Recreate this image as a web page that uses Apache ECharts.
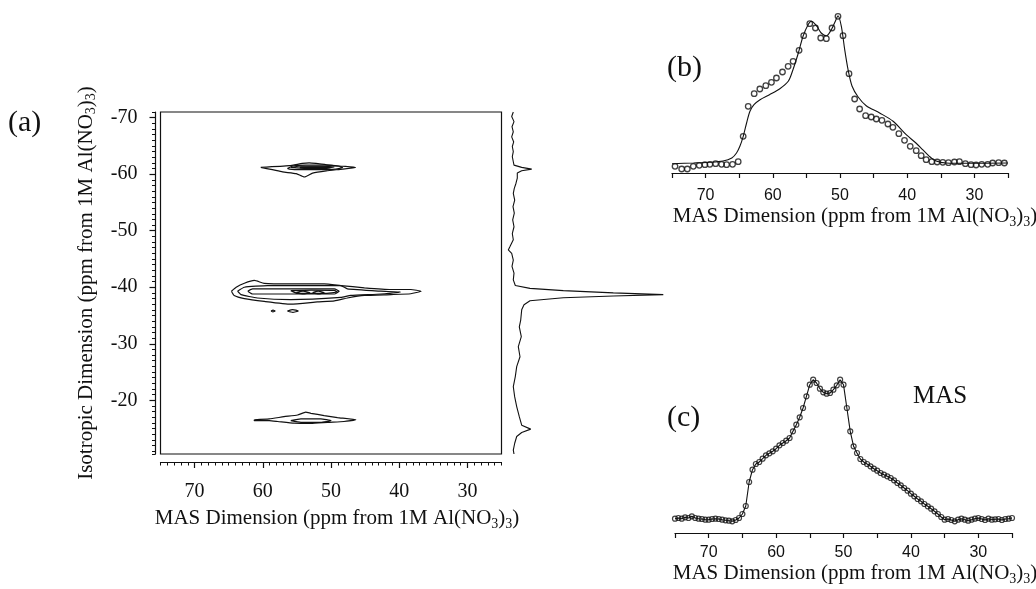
<!DOCTYPE html>
<html>
<head>
<meta charset="utf-8">
<script src="https://cdn.jsdelivr.net/npm/echarts@6/dist/echarts.min.js"></script>
<style>
html, body { margin: 0; padding: 0; background: #fff; }
#chart { width: 1036px; height: 589px; }
</style>
</head>
<body>
<div id="chart"></div>
<script>
// tick labels
const masLabels = [70, 60, 50, 40, 30]
const isoLabels = [-70, -60, -50, -40, -30, -20]

// (b) slice through the -38.5 ppm site: points + fit
const bPpm = [74.55, 73.56, 72.72, 71.83, 70.94, 70.1, 69.36, 68.51, 67.62, 66.88,
  65.99, 65.15, 64.41, 63.66, 62.77, 61.93, 61.04, 60.2, 59.46, 58.56,
  57.72, 56.98, 56.09, 55.4, 54.5, 53.66, 52.87, 52.03, 51.19, 50.3,
  49.55, 48.66, 47.82, 47.08, 46.19, 45.35, 44.6, 43.76, 42.87, 42.13,
  41.24, 40.4, 39.55, 38.66, 37.92, 37.18, 36.34, 35.54, 34.7, 33.86,
  32.97, 32.23, 31.34, 30.5, 29.75, 28.91, 28.02, 27.28, 26.39, 25.54]
const bInt = [6.7, 4, 4, 6.7, 7.7, 8.3, 8.7, 9.3, 8.7, 8.3,
  8.7, 11.3, 36.7, 66.7, 79.3, 84, 87.3, 90.7, 95, 101,
  106.7, 111.7, 122.7, 137.3, 149.3, 145, 135, 134.3, 145, 156.7,
  137.3, 99.3, 74, 64, 57.3, 56, 54, 52.7, 49, 45.7,
  39.3, 32.7, 26.7, 22.3, 17.3, 13.3, 11.3, 11, 10.7, 10.3,
  11, 11.3, 9.3, 8.3, 8, 8.7, 8.7, 10, 10.3, 10]
const bFitPpm = [75, 71.8, 69.4, 67.4, 66.1, 65.4, 64.9, 64.4, 63.9, 63.4,
  62.8, 61.9, 60.5, 59, 57.7, 57, 56.2, 55.5, 54.75, 54.25,
  53.5, 52.8, 52, 51.3, 50.6, 50.3, 49.8, 49.3, 48.8, 48.2,
  47.3, 46.1, 44.1, 42.1, 40.15, 38.7, 37.7, 36.7, 35.7, 34.2, 31.2, 25]
const bFitInt = [9.3, 10, 10.7, 12, 15, 20, 26.7, 36.7, 50, 61.7,
  68.3, 73.3, 78.3, 84, 91.7, 103.3, 120, 136.7, 148.3, 151.7,
  147.3, 140, 137.3, 143.3, 153.3, 157.3, 146.7, 123.3, 103.3, 86.7,
  76, 67.3, 60, 51.7, 38.3, 30, 23.3, 16.7, 12, 10, 9.7, 10]

// (c) MAS spectrum
const cPpm = [75, 74.5, 74, 73.5, 73, 72.5, 72, 71.5, 71, 70.5,
  70, 69.5, 69, 68.5, 68, 67.5, 67, 66.5, 66, 65.5,
  65, 64.5, 64, 63.5, 63, 62.5, 62, 61.5, 61, 60.5,
  60, 59.5, 59, 58.5, 58, 57.5, 57, 56.5, 56, 55.5,
  55, 54.5, 54, 53.5, 53, 52.5, 52, 51.5, 51, 50.5,
  50, 49.5, 49, 48.5, 48, 47.5, 47, 46.5, 46, 45.5,
  45, 44.5, 44, 43.5, 43, 42.5, 42, 41.5, 41, 40.5,
  40, 39.5, 39, 38.5, 38, 37.5, 37, 36.5, 36, 35.5,
  35, 34.5, 34, 33.5, 33, 32.5, 32, 31.5, 31, 30.5,
  30, 29.5, 29, 28.5, 28, 27.5, 27, 26.5, 26, 25.5, 25]
const cInt = [14.3, 15, 14.3, 15.7, 15, 16.7, 15, 14.3, 14, 13.3,
  13.3, 14, 14.3, 14, 13.3, 12.7, 12.3, 11.7, 13, 15,
  19, 27, 51, 63.3, 69, 71, 74.3, 77.7, 79.7, 81.7,
  84.3, 87.7, 90, 92.3, 95, 101.7, 108.3, 115.7, 125, 136.7,
  148.3, 153.3, 150, 144.3, 140.7, 139.3, 140, 143.3, 147.7, 153.3,
  148.3, 125, 101.7, 86.7, 80, 74, 71, 69, 66.7, 64.3,
  62.3, 60, 58.3, 56.7, 55, 52.7, 50, 47.7, 45, 42.3,
  39.3, 36.7, 34, 31.7, 29, 26.7, 24.3, 21.7, 19, 16,
  13.3, 14, 13, 11.7, 13.3, 14.3, 13.3, 12.3, 13.3, 14.3,
  15, 14, 13, 14.3, 13.3, 13.7, 14, 13, 14, 14.3, 15]

// isotropic projection drawn at the right of (a)
const projIso = [-71, -70.2, -69.3, -68.4, -67.5, -66.6, -65.7, -64.9, -64.0, -63.1,
  -62.2, -61.6, -61.2, -60.9, -60.6, -60.2, -59.3, -58.4, -57.5, -56.6,
  -55.4, -54.25, -53.1, -51.9, -50.7, -49.5, -48.4, -47.2, -46.6, -46.0,
  -44.8, -43.7, -42.5, -41.3, -40.3, -39.8, -39.4, -39.0, -38.7, -38.45,
  -38.15, -37.6, -36.9, -36.0, -34.2, -33.0, -31.25, -29.5, -27.7, -25.95,
  -24.2, -22.4, -20.6, -18.9, -17.1, -15.6, -14.9, -14.3, -13.6, -12.4, -11.2, -10.5]
const projInt = [5.3, 3.7, 6, 4, 5.3, 3.7, 5.7, 4.3, 5.3, 4.3,
  5.3, 6, 13.7, 23.7, 13.7, 9.3, 9.3, 8, 6.3, 5.3,
  6.7, 5, 6.3, 4.7, 6, 4.3, 5.3, 2, 0.3, 3.7,
  5.3, 4, 6, 5.3, 7.3, 22, 55.3, 105.3, 155.3, 105.3,
  55.3, 22, 16, 13.7, 12.7, 11.3, 13.3, 10.3, 12, 8.7,
  7.3, 5.3, 6.7, 8.7, 11.3, 13.7, 22.7, 13.7, 8.7, 6.7, 5.3, 6]

// contour rings, [MAS ppm, isotropic ppm]
const contours61 = [
  [[60.3, -61.2], [56.1, -61.5], [54.2, -61.9], [53.2, -62.0], [52.2, -61.9], [50.3, -61.6], [48.3, -61.4], [46.4, -61.2],
    [48.3, -60.9], [50.7, -60.6], [52.7, -60.2], [53.9, -59.5], [55.1, -60.1], [57.1, -60.4], [58.6, -60.8]],
  [[56.4, -61.0], [55.6, -61.45], [53.7, -61.6], [50.75, -61.6], [48.8, -61.4], [48.3, -61.2], [49.3, -60.9], [51.7, -60.8], [54.7, -60.8], [56.1, -60.9]],
  [[55.9, -61.2], [54.7, -61.4], [51.7, -61.4], [49.5, -61.3], [50.7, -61.0], [53.7, -61.0]],
  [[54.5, -61.25], [51.5, -61.3], [50.0, -61.2], [51.5, -61.1], [54.5, -61.1]]
]
const contours38 = [
  [[64.6, -39.3], [63.9, -40.0], [62.7, -40.7], [61.25, -41.2], [59.8, -40.7], [55.9, -40.6], [51.0, -40.6], [48.55, -40.3],
    [45.1, -39.9], [41.2, -39.6], [38.3, -39.6], [36.8, -39.3], [38.3, -38.85], [41.2, -38.7], [45.1, -38.55], [47.6, -38.1],
    [49.5, -37.6], [52.0, -37.4], [55.9, -37.0], [59.8, -37.5], [62.7, -38.0], [64.2, -38.55]],
  [[63.7, -39.3], [62.7, -40.0], [59.3, -40.3], [48.55, -40.3], [47.6, -39.7], [42.7, -39.3], [39.8, -39.15], [42.7, -38.8],
    [47.1, -38.55], [48.55, -38.2], [55.9, -37.8], [60.8, -38.1], [63.2, -38.7]],
  [[62.2, -39.3], [61.5, -39.7], [49.5, -39.7], [48.8, -39.3], [49.5, -38.8], [61.5, -38.8]],
  [[55.9, -39.4], [52.9, -39.5], [49.5, -39.45], [49.05, -39.15], [51.0, -38.9], [54.9, -38.9]],
  [[55.1, -39.05], [54.1, -39.3], [53.1, -39.05], [54.1, -38.8]],
  [[52.7, -39.05], [51.85, -39.3], [51.0, -39.05], [51.85, -38.8]],
  [[58.8, -35.8], [58.5, -35.95], [58.2, -35.8], [58.5, -35.65]],
  [[56.4, -35.8], [55.6, -36.05], [54.8, -35.8], [55.6, -35.55]]
]
const contours16 = [
  [[61.25, -16.55], [59.05, -16.7], [56.9, -17.1], [54.9, -17.4], [53.7, -17.9], [52.95, -17.7], [51.0, -17.3], [49.05, -16.95],
    [46.35, -16.55], [48.1, -16.25], [50.5, -16.1], [52.95, -15.9], [55.4, -15.95], [57.8, -16.25], [59.05, -16.4], [61.25, -16.4]],
  [[55.9, -16.4], [54.4, -16.7], [51.5, -16.7], [50.0, -16.4], [51.5, -16.1], [54.4, -16.1]]
]

const serif = "'Liberation Serif', 'Times New Roman', serif"
const sans = "'Liberation Sans', Arial, sans-serif"
const ink = '#111'

const pairs = (xs, ys) => xs.map((x, i) => [x, ys[i]])
const ring = pts => pts.concat([pts[0]])

const nameRich = {
  s: { fontFamily: serif, fontSize: 14, lineHeight: 10, verticalAlign: 'bottom', color: ink }
}
const masName = 'MAS Dimension (ppm from 1M Al(NO{s|3}){s|3})'
const isoName = 'Isotropic Dimension (ppm from 1M Al(NO{s|3}){s|3})'
const nameStyle = { fontFamily: serif, fontSize: 21, lineHeight: 24, color: ink, rich: nameRich }

const chart = echarts.init(document.getElementById('chart'))

const contourSeries = contours61.concat(contours38, contours16).map(pts => ({
  type: 'line',
  xAxisIndex: 0,
  yAxisIndex: 0,
  data: ring(pts),
  symbol: 'none',
  smooth: 0.15,
  silent: true,
  lineStyle: { color: ink, width: 1.2 }
}))

const tenOnly = v => (masLabels.includes(v) ? String(v) : '')

chart.setOption({
  animation: false,
  backgroundColor: '#fff',
  grid: [
    { left: 160.5, top: 112, width: 341, height: 342, show: true, borderColor: ink, borderWidth: 1.2, outerBoundsMode: 'none' },
    { left: 508, top: 112, width: 160, height: 342, outerBoundsMode: 'none' },
    { left: 672, top: 3, width: 336, height: 170, outerBoundsMode: 'none' },
    { left: 675, top: 368, width: 337, height: 165, outerBoundsMode: 'none' }
  ],
  xAxis: [
    {
      gridIndex: 0, type: 'value', position: 'bottom', min: 25, max: 75, inverse: true, offset: 8,
      axisLine: { lineStyle: { color: ink, width: 1.2 } },
      axisTick: { customValues: masLabels, length: 6, lineStyle: { color: ink, width: 1.2 } },
      axisLabel: { customValues: masLabels, fontFamily: serif, fontSize: 20, color: ink, margin: 20 },
      splitLine: { show: false },
      name: masName, nameLocation: 'middle', nameGap: 43,
      nameTextStyle: Object.assign({}, nameStyle, { padding: [0, 0, 0, 12] })
    },
    {
      gridIndex: 0, type: 'value', position: 'bottom', min: 25, max: 75, inverse: true, offset: 8, interval: 1,
      axisLine: { show: false },
      axisTick: { length: 3.5, lineStyle: { color: ink, width: 1 } },
      axisLabel: { show: false },
      splitLine: { show: false }
    },
    { gridIndex: 1, type: 'value', min: 0, max: 160, show: false },
    {
      gridIndex: 2, type: 'value', min: 25, max: 75, inverse: true, interval: 5,
      axisLine: { lineStyle: { color: ink, width: 1.2 } },
      axisTick: { length: 5, lineStyle: { color: ink, width: 1.2 } },
      axisLabel: { formatter: tenOnly, fontFamily: sans, fontSize: 16, color: ink, margin: 15 },
      splitLine: { show: false },
      name: masName, nameLocation: 'middle', nameGap: 31,
      nameTextStyle: Object.assign({}, nameStyle, { padding: [0, 0, 0, 30] })
    },
    {
      gridIndex: 3, type: 'value', min: 25, max: 75, inverse: true, interval: 5,
      axisLine: { lineStyle: { color: ink, width: 1.2 } },
      axisTick: { length: 5, lineStyle: { color: ink, width: 1.2 } },
      axisLabel: { formatter: tenOnly, fontFamily: sans, fontSize: 16, color: ink, margin: 12 },
      splitLine: { show: false },
      name: masName, nameLocation: 'middle', nameGap: 24,
      nameTextStyle: Object.assign({}, nameStyle, { padding: [0, 0, 0, 23] })
    }
  ],
  yAxis: [
    {
      gridIndex: 0, type: 'value', position: 'left', min: -71, max: -10.5, inverse: true, offset: 5,
      axisLine: { show: true, lineStyle: { color: ink, width: 1.2 } },
      axisTick: { show: true, customValues: isoLabels, length: 6, lineStyle: { color: ink, width: 1.2 } },
      axisLabel: { customValues: isoLabels, fontFamily: serif, fontSize: 20, color: ink, margin: 18 },
      splitLine: { show: false },
      name: isoName, nameLocation: 'middle', nameGap: 57, nameRotate: 90, nameTextStyle: nameStyle
    },
    {
      gridIndex: 0, type: 'value', position: 'left', min: -71, max: -10.5, inverse: true, offset: 5, interval: 1,
      axisLine: { show: false },
      axisTick: { show: true, length: 3.5, lineStyle: { color: ink, width: 1 } },
      axisLabel: { show: false },
      splitLine: { show: false }
    },
    { gridIndex: 1, type: 'value', min: -71, max: -10.5, inverse: true, show: false },
    { gridIndex: 2, type: 'value', min: 0, max: 170, show: false },
    { gridIndex: 3, type: 'value', min: 0, max: 165, show: false }
  ],
  graphic: [
    { type: 'text', left: 8, top: 108, style: { text: '(a)', font: '30px ' + serif, fill: ink } },
    { type: 'text', left: 667, top: 53, style: { text: '(b)', font: '30px ' + serif, fill: ink } },
    { type: 'text', left: 667, top: 403, style: { text: '(c)', font: '30px ' + serif, fill: ink } },
    { type: 'text', left: 913, top: 384, style: { text: 'MAS', font: '25px ' + serif, fill: ink } }
  ],
  series: contourSeries.concat([
    {
      type: 'line', xAxisIndex: 2, yAxisIndex: 2,
      data: pairs(projInt, projIso),
      symbol: 'none', silent: true,
      lineStyle: { color: ink, width: 1.1 }
    },
    {
      type: 'line', xAxisIndex: 3, yAxisIndex: 3,
      data: pairs(bFitPpm, bFitInt),
      symbol: 'none', smooth: 0.3, silent: true,
      lineStyle: { color: ink, width: 1.1 }
    },
    {
      type: 'scatter', xAxisIndex: 3, yAxisIndex: 3,
      data: pairs(bPpm, bInt),
      symbol: 'circle', symbolSize: 5.5, silent: true,
      itemStyle: { color: 'rgba(255,255,255,0)', borderColor: ink, borderWidth: 1.3 }
    },
    {
      type: 'line', xAxisIndex: 4, yAxisIndex: 4,
      data: pairs(cPpm, cInt),
      symbol: 'none', silent: true,
      lineStyle: { color: ink, width: 1.1 }
    },
    {
      type: 'scatter', xAxisIndex: 4, yAxisIndex: 4,
      data: pairs(cPpm, cInt),
      symbol: 'circle', symbolSize: 5, silent: true,
      itemStyle: { color: 'rgba(255,255,255,0)', borderColor: ink, borderWidth: 1.2 }
    }
  ])
})
</script>
</body>
</html>
